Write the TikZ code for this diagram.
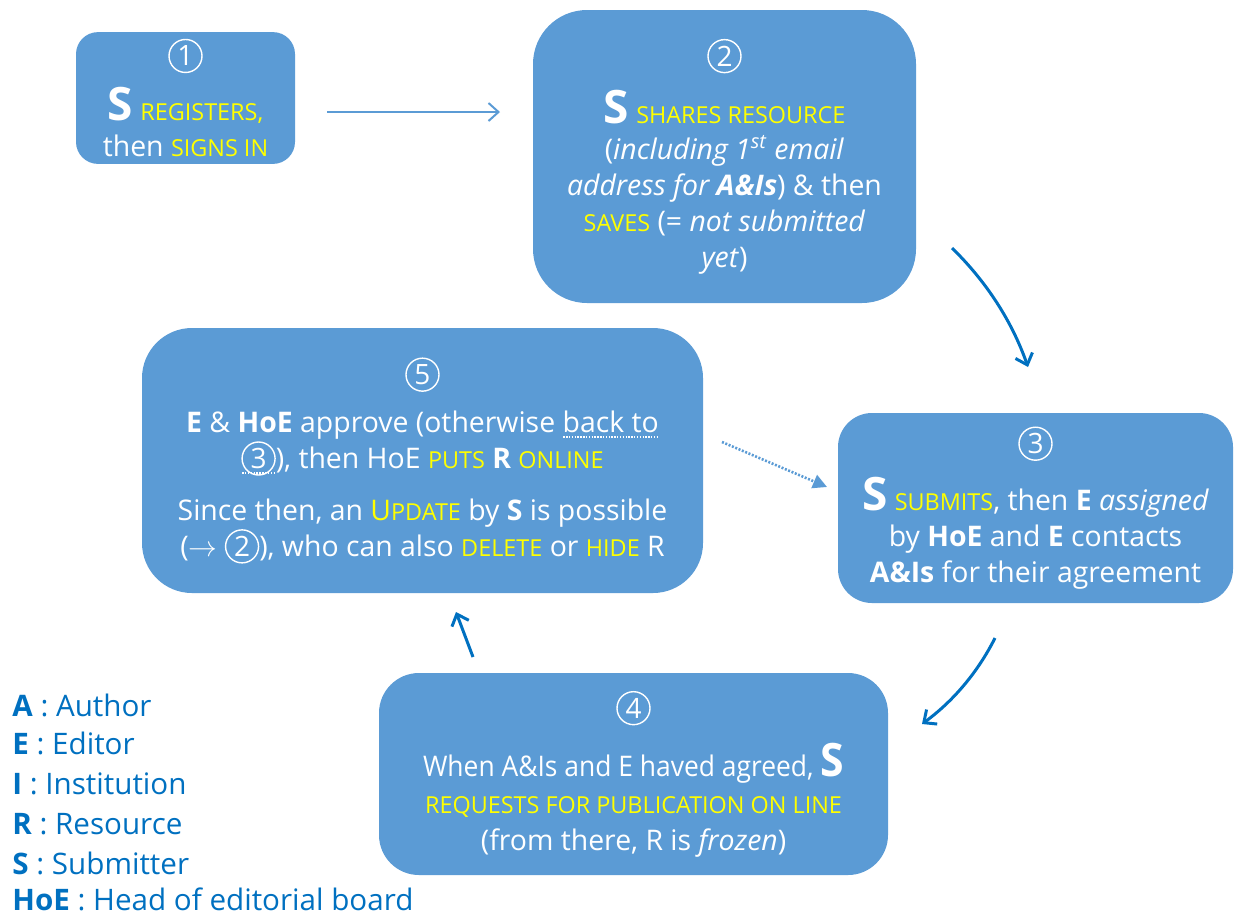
\documentclass[tikz,border=0pt]{standalone}
\usepackage{fontspec}
\setmainfont{Open Sans}
\usetikzlibrary{arrows.meta}
\definecolor{boxblue}{HTML}{5B9BD5}
\definecolor{arrblue}{HTML}{0070C0}
\definecolor{yel}{HTML}{FFFF00}
\newcommand\ys[1]{\textcolor{yel}{\fontsize{11.7}{18}\selectfont #1}}
\newcommand\bigS{{\fontsize{23}{18}\selectfont\bfseries S}}
\newcommand\circn[1]{\tikz[baseline=(cn.base)]\node[circle, draw=white, line width=0.7pt, inner sep=0pt,
  minimum size=16.5pt, text=white, font=\fontsize{14}{14}\selectfont] (cn) {#1};}
\newsavebox\dulbox
\newcommand\dotul[1]{\sbox\dulbox{#1}\leavevmode\rlap{\raisebox{-2.5pt}{\hbox to \wd\dulbox{\xleaders\hbox to 1.4pt{\hss\rule{0.7pt}{0.6pt}\hss}\hfill}}}\usebox\dulbox}
\lineskiplimit=-100pt
\tikzset{
  stepbox/.style={fill=boxblue, draw=none, text=white, align=center,
    font=\fontsize{14.2}{18}\selectfont},
  flowarrow/.style={draw=arrblue, line width=1.5pt, -{Straight Barb[length=5pt,width=9pt]}},
  legend/.style={anchor=base west, text=arrblue, inner sep=0pt, font=\fontsize{14.8}{20}\selectfont}
}
\begin{document}
\begin{tikzpicture}[x=0.5pt,y=-0.5pt]
\useasboundingbox (0,0) rectangle (1236,917);

\node[stepbox, minimum width=109.5pt, minimum height=63pt, rounded corners=11pt] (b1) at (185.5,98)
 {\circn{1}\\[9.5pt]
  \bigS\ \ys{REGISTERS,}\\
  then \ys{SIGNS IN}};

\node[stepbox, minimum width=191.5pt, minimum height=146.5pt, rounded corners=27pt] (b2) at (724.5,156.5)
 {\circn{2}\\[10.5pt]
  \bigS\ \ys{SHARES RESOURCE}\\
  (\textit{including 1\textsuperscript{st} email}\\
  \textit{address for \textbf{A\&Is}}) \& then\\
  \ys{SAVES} (= \textit{not submitted}\\
  \textit{yet})};

\node[stepbox, minimum width=197.5pt, minimum height=95pt, rounded corners=17pt] (b3) at (1035.5,508)
 {\circn{3}\\[10.5pt]
  \bigS\ \ys{SUBMITS}, then \textbf{E} \textit{assigned}\\
  by \textbf{HoE} and \textbf{E} contacts\\
  \textbf{A\&Is} for their agreement};

\node[stepbox, minimum width=254.5pt, minimum height=101pt, rounded corners=20pt] (b4) at (633.5,774)
 {\circn{4}\\[11pt]
  \scalebox{0.93}[1]{When A\&Is and E haved agreed, \bigS}\\[0.5pt]
  \ys{REQUESTS FOR PUBLICATION ON LINE}\\[0.5pt]
  (from there, R is \textit{frozen})};

\node[stepbox, minimum width=280.5pt, minimum height=132.5pt, rounded corners=25pt] (b5) at (422.5,460.5)
 {\circn{5}\\[6pt]
  \textbf{E} \& \textbf{HoE} approve (otherwise \dotul{back to}\\
  \dotul{\circn{3}}), then HoE \ys{PUTS} \textbf{R} \ys{ONLINE}\\[8pt]
  Since then, an \textcolor{yel}{U\ys{PDATE}} by \textbf{S} is possible\\
  ($\rightarrow$ \circn{2}), who can also \ys{DELETE} or \ys{HIDE} R};

% connectors
\coordinate (a1s) at (327,112);
\coordinate (a1e) at (500,112);
\draw[draw=boxblue, line width=1pt, -{Straight Barb[length=5pt,width=9pt]}] (a1s) -- (a1e);

\coordinate (a2s) at (952,248);
\coordinate (a2c) at (986.6,281.8);
\coordinate (a2d) at (1012,321.4);
\coordinate (a2e) at (1028,367);
\draw[flowarrow] (a2s) .. controls (a2c) and (a2d) .. (a2e);

\coordinate (a3s) at (995,638);
\coordinate (a3c) at (977.6,672.5);
\coordinate (a3d) at (953.2,701.1);
\coordinate (a3e) at (922,724);
\draw[flowarrow] (a3s) .. controls (a3c) and (a3d) .. (a3e);

\coordinate (a4s) at (473,657);
\coordinate (a4e) at (456,612);
\draw[flowarrow] (a4s) -- (a4e);

\coordinate (a5s) at (722,442);
\coordinate (a5e) at (827,487);
\draw[draw=boxblue, line width=1.3pt, dash pattern=on 1pt off 0.8pt, -{Triangle[length=7pt,width=7pt]}] (a5s) -- (a5e);

% legend
\node[legend] (lA) at (12,716) {\textbf{A} : Author};
\node[legend] (lE) at (12,754) {\textbf{E} : Editor};
\node[legend] (lI) at (12,794) {\textbf{I} : Institution};
\node[legend] (lR) at (12,834) {\textbf{R} : Resource};
\node[legend] (lS) at (12,874) {\textbf{S} : Submitter};
\node[legend] (lH) at (12,910) {\textbf{HoE} : Head of editorial board};
\end{tikzpicture}
\end{document}
